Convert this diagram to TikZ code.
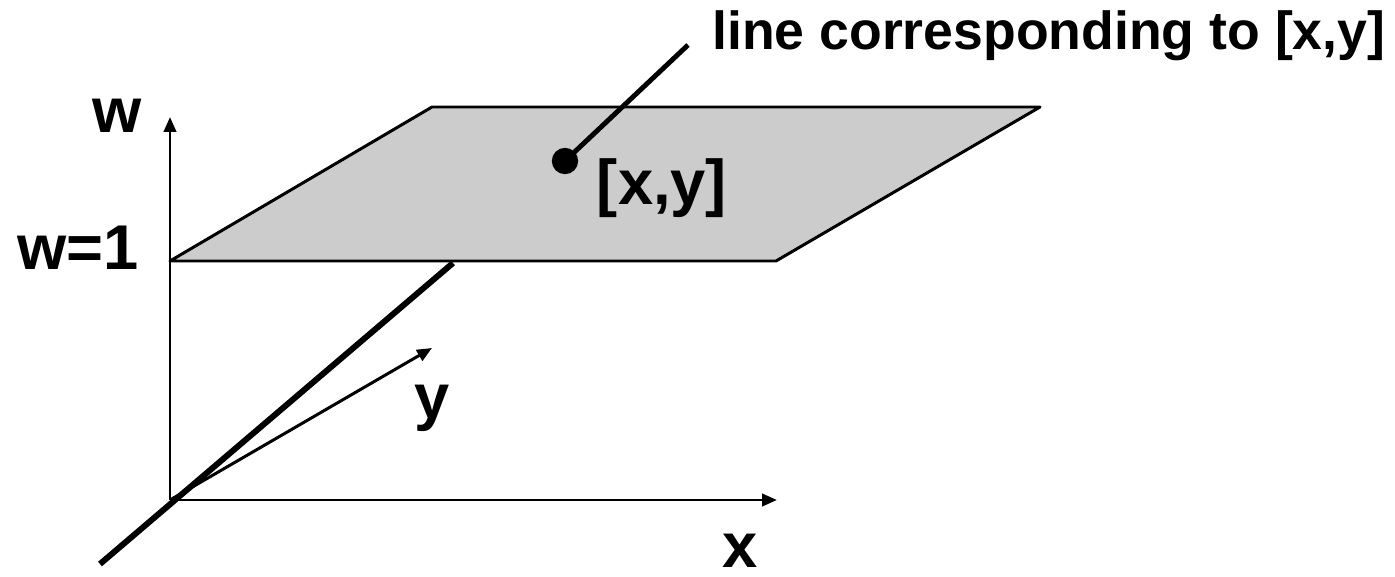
\documentclass[tikz,border=0pt]{standalone}
\usepackage{fontspec}
\setmainfont{Liberation Sans}
\usepackage{tikz}
\usetikzlibrary{arrows.meta}

\begin{document}
\begin{tikzpicture}[x=0.02cm,y=-0.02cm,>={Triangle[length=8.5pt,width=7pt]},
  axis/.style={line width=1.7pt,->},
  lbl/.style={inner sep=0pt,anchor=base,font=\bfseries\fontsize{36}{40}\selectfont},
  toplbl/.style={inner sep=0pt,anchor=base west,font=\bfseries\fontsize{30.5}{34}\selectfont}]
\useasboundingbox (0,0) rectangle (1395,577);
% axes
\coordinate (O) at (170,500);
\coordinate (wtip) at (170,117);
\coordinate (xtip) at (777,500);
\coordinate (ytip) at (432,348);
\draw[axis] (O) -- (wtip);
\draw[axis] (O) -- (xtip);
\draw[axis] (O) -- (ytip);
% line through the origin
\coordinate (lnlow) at (100,564);
\coordinate (lnhigh) at (453,263);
\draw[line width=3.4pt] (lnlow) -- (lnhigh);
% plane w=1
\draw[line width=1.7pt,fill=black!20,line join=round] (170,261) -- (432,107) -- (1040,107) -- (776,261) -- cycle;
% point on the plane
\node[circle,fill=black,inner sep=0pt,minimum size=15pt] (pt) at (565,161) {};
\coordinate (lntop) at (688,45);
\draw[line width=2.8pt] (pt.center) -- (lntop);
% labels
\node[lbl] (wlbl) at (117,133) {w};
\node[lbl] (wone) at (78,270) {w=1};
\node[lbl] (ylbl) at (432,418) {y};
\node[lbl] (xlbl) at (740,567) {x};
\node[lbl] (xylbl) at (662,205) {[x,y]};
\node[toplbl] (linelbl) at (712,50) {line corresponding to [x,y]};
\end{tikzpicture}
\end{document}
